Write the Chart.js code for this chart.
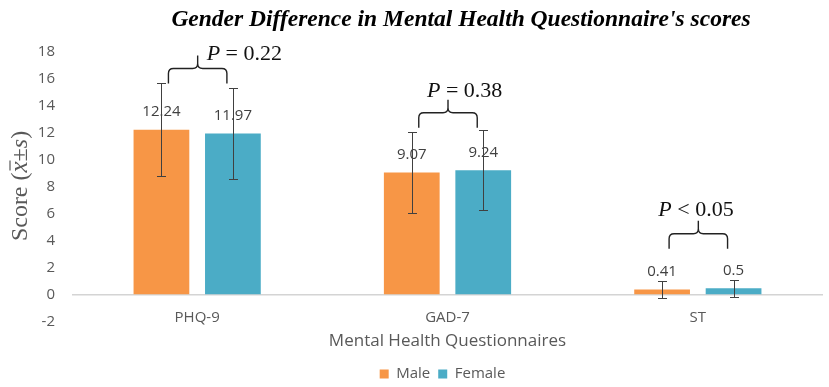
<!DOCTYPE html>
<html><head><meta charset="utf-8">
<script src="https://cdn.jsdelivr.net/npm/chart.js@4/dist/chart.umd.min.js"></script>
<style>html,body{margin:0;padding:0;background:#fff}#wrap{width:829px;height:387px;position:relative}</style>
</head><body><div id="wrap"><canvas id="c"></canvas></div>
<script>
// ---- data ----
const categories = ['PHQ-9', 'GAD-7', 'ST'];
const seriesNames = ['Male', 'Female'];
const maleMeans = [12.24, 9.07, 0.41];
const femaleMeans = [11.97, 9.24, 0.5];
const maleSD = [3.45, 3.03, 0.6];
const femaleSD = [3.37, 2.98, 0.63];
const pTexts = ['= 0.22', '= 0.38', '< 0.05'];
const yTickValues = [-2, 0, 2, 4, 6, 8, 10, 12, 14, 16, 18];
const titleText = "Gender Difference in Mental Health Questionnaire's scores";
const xTitleText = 'Mental Health Questionnaires';

// ---- annotation layout (positions, not data) ----
const bracketLayout = [
  {base: 15.67, textDx: 9, textDy: 5},
  {base: 12.39, textDx: -21, textDy: -3},
  {base: 3.43, textDx: -40, textDy: -5}
];

const ORANGE = '#F79646', BLUE = '#4BACC6', GRAY = '#595959';
const sansFont = "'Open Sans', 'Noto Sans', sans-serif";
const serifFont = "'Liberation Serif', 'Times New Roman', serif";

const sdBySeries = [maleSD, femaleSD];

const overlayPlugin = {
  id: 'overlay',
  afterLayout(chart) {
    if (chart.legend) { chart.legend.left -= 5; chart.legend.right -= 5; }
  },
  afterDatasetsDraw(chart) {
    const ctx = chart.ctx;
    const yS = chart.scales.y;
    const xS = chart.scales.x;
    ctx.save();
    // category labels (positions from the x scale)
    ctx.fillStyle = GRAY;
    ctx.font = "15px " + sansFont;
    ctx.textAlign = 'center';
    ctx.textBaseline = 'middle';
    xS.ticks.forEach((t, i) => {
      ctx.fillText(xS.getLabelForValue(t.value), xS.getPixelForTick(i), chart.chartArea.bottom - 4);
    });
    // data labels
    ctx.fillStyle = '#404040';
    ctx.font = "15px " + sansFont;
    chart.data.datasets.forEach((ds, di) => {
      chart.getDatasetMeta(di).data.forEach((bar, i) => {
        ctx.fillText(String(ds.data[i]), bar.x, bar.y - 18);
      });
    });
    // error bars
    ctx.strokeStyle = '#404040';
    ctx.lineWidth = 1;
    chart.data.datasets.forEach((ds, di) => {
      chart.getDatasetMeta(di).data.forEach((bar, i) => {
        const m = ds.data[i], s = sdBySeries[di][i];
        const x = Math.round(bar.x) + 0.5;
        const yt = Math.round(yS.getPixelForValue(m + s)) + 0.5;
        const yb = Math.round(yS.getPixelForValue(m - s)) + 0.5;
        ctx.beginPath();
        ctx.moveTo(x, yt); ctx.lineTo(x, yb);
        ctx.moveTo(x - 4.5, yt); ctx.lineTo(x + 4.5, yt);
        ctx.moveTo(x - 4.5, yb); ctx.lineTo(x + 4.5, yb);
        ctx.stroke();
      });
    });
    // brackets
    const m0 = chart.getDatasetMeta(0).data, m1 = chart.getDatasetMeta(1).data;
    ctx.strokeStyle = '#222';
    ctx.lineWidth = 1.4;
    bracketLayout.forEach((b, i) => {
      const x0 = m0[i].x + 7, x1 = m1[i].x - 6, xm = (x0 + x1) / 2;
      const yb = yS.getPixelForValue(b.base);
      const yh = yb - 15, yt = yh - 13, r = 5;
      ctx.beginPath();
      ctx.moveTo(x0, yb);
      ctx.lineTo(x0, yh + r);
      ctx.quadraticCurveTo(x0, yh, x0 + r, yh);
      ctx.lineTo(xm - r, yh);
      ctx.quadraticCurveTo(xm, yh, xm, yh - r);
      ctx.lineTo(xm, yt);
      ctx.moveTo(xm, yh - r);
      ctx.quadraticCurveTo(xm, yh, xm + r, yh);
      ctx.lineTo(x1 - r, yh);
      ctx.quadraticCurveTo(x1, yh, x1, yh + r);
      ctx.lineTo(x1, yb);
      ctx.stroke();
      // P text
      ctx.fillStyle = '#111';
      ctx.textAlign = 'left';
      ctx.textBaseline = 'alphabetic';
      let tx = xm + b.textDx;
      const ty = yt + b.textDy;
      ctx.font = "italic 22px " + serifFont;
      ctx.fillText('P', tx, ty);
      tx += ctx.measureText('P').width;
      ctx.font = "22px " + serifFont;
      ctx.fillText(' ' + pTexts[i], tx, ty);
    });
    ctx.restore();
  },
  afterDraw(chart) {
    const ctx = chart.ctx;
    ctx.save();
    // title
    ctx.fillStyle = '#000';
    ctx.font = "italic bold 23.5px " + serifFont;
    ctx.textAlign = 'center';
    ctx.textBaseline = 'alphabetic';
    ctx.fillText(titleText, 461, 26);
    // y axis title with math
    ctx.translate(27, 186);
    ctx.rotate(-Math.PI / 2);
    const segs = [
      ['Score (', '24px ' + serifFont],
      ['x', 'italic 25px ' + serifFont, true],
      ['±', '24px ' + serifFont],
      ['s', 'italic 24px ' + serifFont],
      [')', '24px ' + serifFont]
    ];
    let total = 0;
    segs.forEach(s => { ctx.font = s[1]; total += ctx.measureText(s[0]).width; });
    let cx = -total / 2;
    ctx.fillStyle = GRAY;
    ctx.strokeStyle = GRAY;
    ctx.textAlign = 'left';
    segs.forEach(s => {
      ctx.font = s[1];
      const w = ctx.measureText(s[0]).width;
      ctx.fillText(s[0], cx, 0);
      if (s[2]) {
        ctx.lineWidth = 1.2;
        ctx.beginPath();
        ctx.moveTo(cx + 2, -17); ctx.lineTo(cx + w + 1, -17);
        ctx.stroke();
      }
      cx += w;
    });
    ctx.restore();
  }
};

new Chart(document.getElementById('c'), {
  type: 'bar',
  data: {
    labels: categories,
    datasets: [
      {label: seriesNames[0], data: maleMeans, backgroundColor: ORANGE, barPercentage: 0.78, categoryPercentage: 0.571},
      {label: seriesNames[1], data: femaleMeans, backgroundColor: BLUE, barPercentage: 0.78, categoryPercentage: 0.571}
    ]
  },
  options: {
    responsive: true,
    maintainAspectRatio: false,
    animation: false,
    devicePixelRatio: 1,
    layout: {padding: {top: 52, right: 6, left: 0, bottom: -4.5}},
    plugins: {
      title: {display: false},
      tooltip: {enabled: false},
      legend: {
        display: true,
        position: 'bottom',
        fullSize: false,
        labels: {boxWidth: 9, boxHeight: 9, padding: 8, color: GRAY, font: {family: sansFont, size: 15}}
      }
    },
    scales: {
      x: {
        grid: {display: false, drawTicks: false},
        border: {display: false},
        ticks: {display: false, autoSkip: false, maxRotation: 0, minRotation: 0},
        title: {display: true, text: xTitleText, color: GRAY, font: {family: sansFont, size: 17}, padding: {top: 0, bottom: 7}},
        afterFit(scale) { scale.height = 36.5; }
      },
      y: {
        min: -2, max: 18,
        afterBuildTicks(scale) { scale.ticks = yTickValues.map(v => ({value: v})); },
        grid: {
          drawTicks: false,
          color: ctx => (ctx.tick && ctx.tick.value === 0) ? '#D4D4D4' : 'rgba(0,0,0,0)',
          lineWidth: 1.5
        },
        border: {display: false},
        ticks: {color: GRAY, font: {family: sansFont, size: 15}, padding: 17},
        afterFit(scale) { scale.width = 72; }
      }
    }
  },
  plugins: [overlayPlugin]
});
</script>
</body></html>
